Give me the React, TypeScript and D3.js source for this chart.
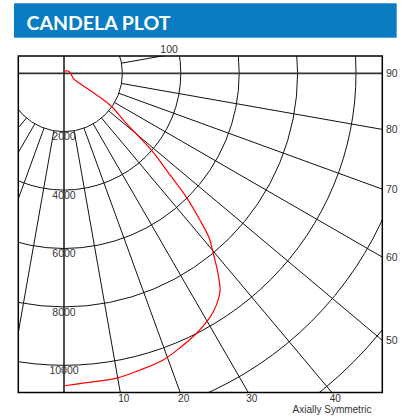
import * as React from 'react'
import * as d3 from 'd3'

// candela distribution, angle from nadir (deg) -> intensity (cd)
const ANGLES = [0, 3.5, 10, 14.4, 19, 22.2, 27.1, 30.3, 32, 34.2, 35.8, 37.6, 39.7, 41.4, 42.8, 44.6, 46.2, 48.5, 51.4, 55.4, 58.7, 61.7, 71, 90, 118, 180]
const CANDELA = [10700, 10630, 10590, 10490, 10390, 10240, 9990, 9780, 9640, 9390, 9140, 8640, 8000, 7520, 6850, 6000, 5030, 4070, 2690, 1910, 440, 360, 290, 230, 170, 70]

const RINGS = [2000, 4000, 6000, 8000, 10000, 12000, 14000, 16000]
const RING_LABELS = [2000, 4000, 6000, 8000, 10000]
const SPOKES = [-40, -30, -20, -10, 10, 20, 30, 40, 50, 60, 70, 80, 100]
const BOTTOM_TICKS = [10, 20, 30, 40]
const RIGHT_TICKS = [90, 80, 70, 60, 50]
const TOP_TICKS = [100]

export default function App() {
    const W = 411
    const H = 417
    const CX = 64
    const CY = 73.3
    const LEFT = 18.3
    const RIGHT = 382.3
    const TOP = 56
    const BOTTOM = 392.5
    const FONT = 'Liberation Sans, Arial, sans-serif'
    const LABEL = '#333'

    const r = d3.scaleLinear().domain([0, 10000]).range([0, 292])
    const rad = (deg: number) => deg * Math.PI / 180
    const px = (deg: number, v: number) => CX + r(v) * Math.sin(rad(deg))
    const py = (deg: number, v: number) => CY + r(v) * Math.cos(rad(deg))

    const data = ANGLES.map((a, i) => ({ a, v: CANDELA[i] }))
    const curve = d3.lineRadial<{ a: number, v: number }>()
        .angle(d => Math.PI - rad(d.a))
        .radius(d => r(d.v))
        .curve(d3.curveCatmullRom.alpha(0.5))

    return <svg width={W} height={H} style={{ position: 'absolute', left: 0, top: 0 }}>
        <defs>
            <clipPath id="frame">
                <rect x={LEFT} y={TOP} width={RIGHT - LEFT} height={BOTTOM - TOP} />
            </clipPath>
        </defs>

        <rect x={14} y={3.3} width={382.7} height={34.4} fill="#0a7cc3" />
        <text x={26.5} y={30} fill="#fff" fontFamily="Lato, sans-serif" fontWeight="bold" fontSize={19.5}>CANDELA PLOT</text>

        <g clipPath="url(#frame)" fill="none" stroke="#111" strokeWidth={1}>
            {RINGS.map(v => <circle key={v} cx={CX} cy={CY} r={r(v)} />)}
            {SPOKES.map(a => <line key={a} x1={px(a, 2000)} y1={py(a, 2000)} x2={px(a, 30000)} y2={py(a, 30000)} />)}
        </g>
        <line x1={LEFT} x2={RIGHT} y1={CY} y2={CY} stroke="#333" strokeWidth={1.8} />
        <line x1={CX} x2={CX} y1={TOP} y2={BOTTOM} stroke="#222" strokeWidth={1.6} />

        {RING_LABELS.map(v =>
            <text key={v} x={CX} y={CY + r(v) + 6} textAnchor="middle" dominantBaseline="middle"
                fontFamily={FONT} fontSize={10.5} fill={LABEL}>{v}</text>
        )}

        <path d={curve(data) || ''} transform={`translate(${CX} ${CY})`} fill="none" stroke="#ff0000" strokeWidth={1.2} />

        <rect x={LEFT} y={TOP} width={RIGHT - LEFT} height={BOTTOM - TOP} fill="none" stroke="#000" strokeWidth={1.5} />

        {BOTTOM_TICKS.map(a =>
            <text key={a} x={CX + (BOTTOM - CY) * Math.tan(rad(a)) + 3.5} y={399.8} textAnchor="middle" dominantBaseline="middle"
                fontFamily={FONT} fontSize={10} fill={LABEL}>{a}</text>
        )}
        {RIGHT_TICKS.map(a =>
            <text key={a} x={386} y={CY + (RIGHT - CX) / Math.tan(rad(a)) + 1} dominantBaseline="middle"
                fontFamily={FONT} fontSize={10.5} fill={LABEL}>{a}</text>
        )}
        {TOP_TICKS.map(a =>
            <text key={a} x={CX + (TOP - CY) / Math.cos(rad(a)) * Math.sin(rad(a)) + 7} y={50.5} textAnchor="middle" dominantBaseline="middle"
                fontFamily={FONT} fontSize={10.5} fill={LABEL}>{a}</text>
        )}
        <text x={332} y={410.5} textAnchor="middle" dominantBaseline="middle" fontFamily={FONT} fontSize={10} fill={LABEL}>Axially Symmetric</text>
    </svg>
}
